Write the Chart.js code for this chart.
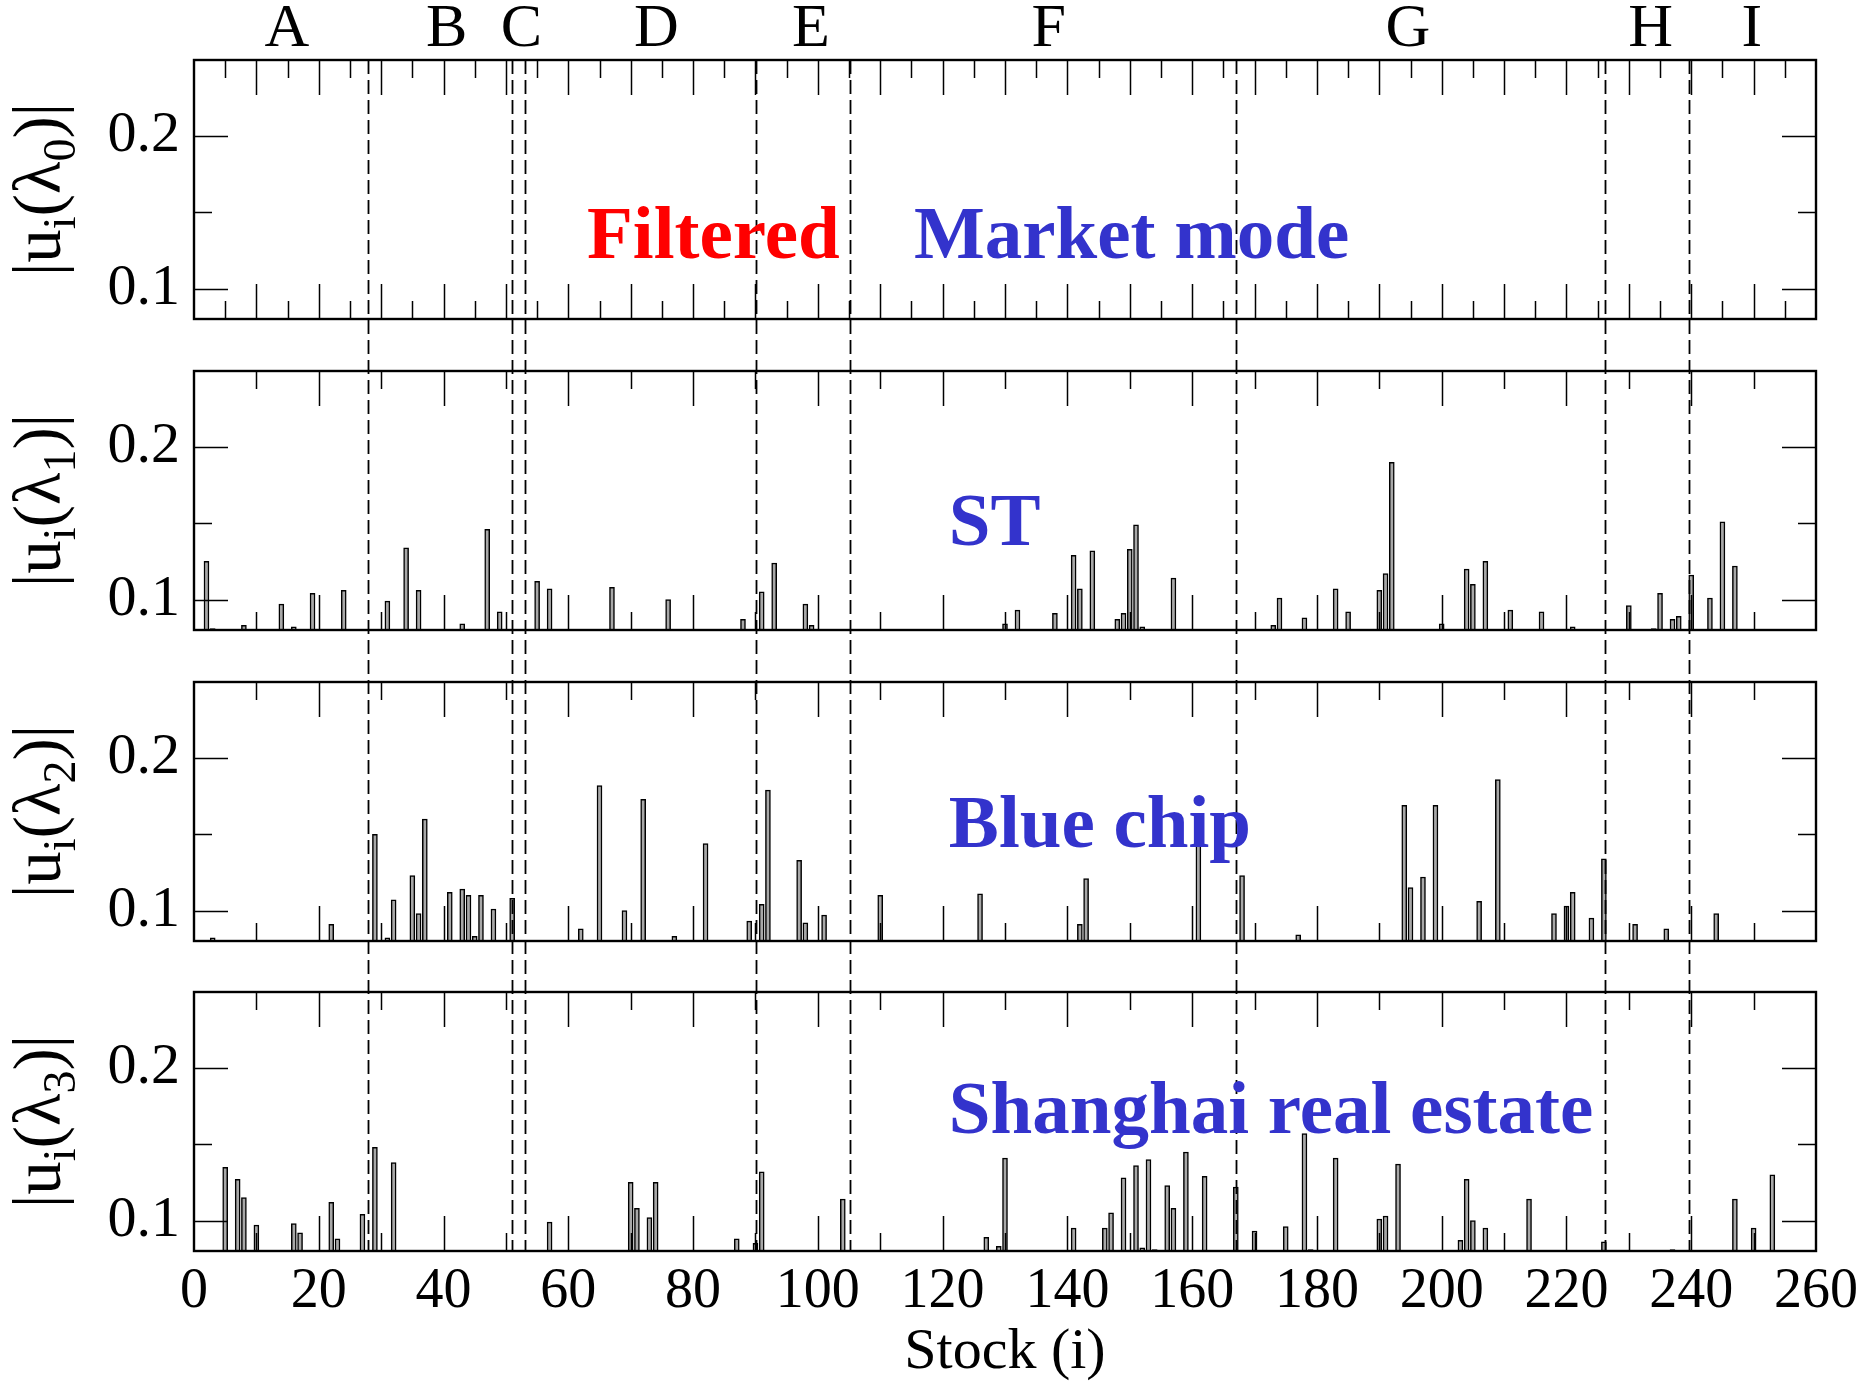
<!DOCTYPE html>
<html>
<head>
<meta charset="utf-8">
<script src="https://cdn.jsdelivr.net/npm/chart.js@4.4.1/dist/chart.umd.min.js"></script>
<style>
  html, body { margin: 0; padding: 0; background: #ffffff; }
  #wrap { position: relative; width: 1866px; height: 1384px; background: #ffffff; overflow: hidden; }
  #wrap canvas { position: absolute; left: 0; top: 0; }
</style>
</head>
<body>
<div id="wrap">
  <canvas id="c0" width="1866" height="1384"></canvas>
  <canvas id="c1" width="1866" height="1384"></canvas>
  <canvas id="c2" width="1866" height="1384"></canvas>
  <canvas id="c3" width="1866" height="1384"></canvas>
</div>
<script>
// ---------------- data ----------------
const sectorNames   = ['A', 'B', 'C', 'D', 'E', 'F', 'G', 'H', 'I'];
const sectorLabelAt = [14.9, 40.5, 52.5, 74.1, 98.9, 137.0, 194.6, 233.5, 249.7];
const sectorBounds  = [27.9, 50.9, 53.1, 90.1, 105.2, 167.1, 226.1, 239.7];

const xTickLabels = [0, 20, 40, 60, 80, 100, 120, 140, 160, 180, 200, 220, 240, 260];
const yTickLabels = [0.1, 0.2];
const xAxisTitle = 'Stock (i)';
const eigenIndex = ['0', '1', '2', '3'];

// panel 0 : market mode (filtered) - no component above the axis minimum
const stocks0 = [];
const values0 = [];

// panel 1 : ST
const stocks1 = [2, 3, 8, 14, 16, 19, 24, 31, 34, 36, 43, 47, 49, 55, 57, 67, 76,
  88, 91, 93, 98, 99, 130, 132, 138, 141, 142, 144, 148, 149, 150, 151, 152, 157,
  173, 174, 178, 183, 185, 190, 191, 192, 200, 204, 205, 207, 211, 216, 221,
  230, 234, 235, 237, 238, 240, 243, 245, 247];
const values1 = [0.125, 0.081, 0.083, 0.097, 0.082, 0.104, 0.106, 0.099, 0.134, 0.106, 0.084, 0.146, 0.092, 0.112, 0.107, 0.108, 0.100,
  0.087, 0.105, 0.124, 0.097, 0.083, 0.084, 0.093, 0.091, 0.129, 0.107, 0.132, 0.087, 0.091, 0.133, 0.149, 0.082, 0.114,
  0.083, 0.101, 0.088, 0.107, 0.092, 0.106, 0.117, 0.190, 0.084, 0.120, 0.110, 0.125, 0.093, 0.092, 0.082,
  0.096, 0.081, 0.104, 0.087, 0.089, 0.116, 0.101, 0.151, 0.122];

// panel 2 : Blue chip
const stocks2 = [3, 22, 29, 31, 32, 35, 36, 37, 41, 43, 44, 45, 46, 48, 51, 62, 65, 69, 72, 77, 82,
  89, 91, 92, 97, 98, 101, 110, 126, 142, 143, 161, 168, 177, 194, 195, 197, 199, 206, 209,
  218, 220, 221, 224, 226, 231, 236, 244];
const values2 = [0.082, 0.091, 0.150, 0.082, 0.107, 0.123, 0.098, 0.160, 0.112, 0.114, 0.110, 0.083, 0.110, 0.101, 0.108, 0.088, 0.182, 0.100, 0.173, 0.083, 0.144,
  0.093, 0.104, 0.179, 0.133, 0.092, 0.097, 0.110, 0.111, 0.091, 0.121, 0.148, 0.123, 0.084, 0.169, 0.115, 0.122, 0.169, 0.106, 0.186,
  0.098, 0.103, 0.112, 0.095, 0.134, 0.091, 0.088, 0.098];

// panel 3 : Shanghai real estate
const stocks3 = [5, 7, 8, 10, 16, 17, 22, 23, 27, 29, 32, 57, 70, 71, 73, 74, 87, 90, 91, 104,
  127, 129, 130, 141, 146, 147, 149, 151, 152, 153, 154, 156, 157, 159, 162, 167, 170, 175,
  178, 179, 183, 190, 191, 193, 203, 204, 205, 207, 214, 226, 237, 247, 250, 253];
const values3 = [0.135, 0.127, 0.115, 0.097, 0.098, 0.092, 0.112, 0.088, 0.104, 0.148, 0.138, 0.099, 0.125, 0.108, 0.102, 0.125, 0.088, 0.085, 0.132, 0.114,
  0.089, 0.083, 0.141, 0.095, 0.095, 0.105, 0.128, 0.136, 0.082, 0.140, 0.081, 0.123, 0.108, 0.145, 0.129, 0.122, 0.093, 0.096,
  0.157, 0.081, 0.141, 0.101, 0.103, 0.137, 0.087, 0.127, 0.100, 0.095, 0.114, 0.086, 0.081, 0.114, 0.095, 0.130];

const panelStocks = [stocks0, stocks1, stocks2, stocks3];
const panelValues = [values0, values1, values2, values3];

// ---------------- layout / style ----------------
const W = 1866, H = 1384;
const PLOT_LEFT = 194, PLOT_RIGHT = 1816;
const PANEL_TOPS = [60, 371, 682, 992];
const PANEL_H = 259;
const SERIF = '"Liberation Serif", "Times New Roman", serif';
const BLUE = 'rgb(51,51,204)';
const notes = [
  [{ text: 'Filtered', color: '#ff0000', x: 63.0, dy: 198 }, { text: 'Market mode', color: BLUE, x: 115.4, dy: 198 }],
  [{ text: 'ST', color: BLUE, x: 121.0, dy: 174 }],
  [{ text: 'Blue chip', color: BLUE, x: 121.0, dy: 165 }],
  [{ text: 'Shanghai real estate', color: BLUE, x: 121.0, dy: 141 }]
];

function drawYTitle(ctx, cx, cy, sub) {
  const big = '67px ' + SERIF, small = '46px ' + SERIF;
  const parts = [['|u', big, 0], ['i', small, 15], ['(\u03bb', big, 0], [sub, small, 15], [')|', big, 0]];
  let total = 0;
  parts.forEach(pt => { ctx.font = pt[1]; pt.push(ctx.measureText(pt[0]).width); total += pt[3]; });
  ctx.save();
  ctx.translate(cx, cy);
  ctx.rotate(-Math.PI / 2);
  ctx.fillStyle = '#000';
  ctx.textBaseline = 'alphabetic';
  ctx.textAlign = 'left';
  let x = -total / 2;
  parts.forEach(pt => { ctx.font = pt[1]; ctx.fillText(pt[0], x, pt[2]); x += pt[3]; });
  ctx.restore();
}

const framePlugin = {
  id: 'frame',
  afterDatasetsDraw(chart, args, opts) {
    const p = opts.panel;
    const { ctx, chartArea: a } = chart;
    const xs = chart.scales.x, ys = chart.scales.y;
    ctx.save();
    // tick marks, inward on all four sides
    ctx.strokeStyle = '#000';
    ctx.lineWidth = 1.5;
    const step = p === 0 ? 5 : 10, majorStep = p === 0 ? 10 : 20;
    ctx.beginPath();
    for (let v = step; v < 260; v += step) {
      const px = Math.round(xs.getPixelForValue(v)) + 0.5;
      const len = (v % majorStep === 0) ? 35 : 18;
      ctx.moveTo(px, a.bottom); ctx.lineTo(px, a.bottom - len);
      ctx.moveTo(px, a.top); ctx.lineTo(px, a.top + len);
    }
    [0.1, 0.15, 0.2].forEach(v => {
      const py = Math.round(ys.getPixelForValue(v)) + 0.5;
      const len = (Math.abs(v - 0.15) < 1e-9) ? 18 : 34;
      ctx.moveTo(a.left, py); ctx.lineTo(a.left + len, py);
      ctx.moveTo(a.right, py); ctx.lineTo(a.right - len, py);
    });
    ctx.stroke();
    // frame
    ctx.lineWidth = 2.4;
    ctx.strokeRect(a.left, a.top, a.right - a.left, a.bottom - a.top);
    // sector boundaries (dashed), continuous through the gaps between panels
    const y0 = p === 0 ? a.top : PANEL_TOPS[p - 1] + PANEL_H;
    ctx.lineWidth = 1.8;
    ctx.setLineDash([14, 6]);
    ctx.lineDashOffset = (y0 - PANEL_TOPS[0]) % 20;
    ctx.beginPath();
    sectorBounds.forEach(b => {
      const px = Math.round(xs.getPixelForValue(b)) + 0.5;
      ctx.moveTo(px, y0); ctx.lineTo(px, a.bottom);
    });
    ctx.stroke();
    ctx.setLineDash([]);
    // panel annotations
    ctx.font = 'bold 75px ' + SERIF;
    ctx.textAlign = 'left';
    ctx.textBaseline = 'alphabetic';
    notes[p].forEach(n => {
      ctx.fillStyle = n.color;
      ctx.fillText(n.text, xs.getPixelForValue(n.x), a.top + n.dy);
    });
    // sector letters above top panel
    if (p === 0) {
      ctx.fillStyle = '#000';
      ctx.font = '62px ' + SERIF;
      ctx.textAlign = 'center';
      sectorNames.forEach((s, k) => ctx.fillText(s, xs.getPixelForValue(sectorLabelAt[k]), 46));
    }
    // x axis title
    if (p === 3) {
      ctx.fillStyle = '#000';
      ctx.font = '58px ' + SERIF;
      ctx.textAlign = 'center';
      ctx.fillText(xAxisTitle, (a.left + a.right) / 2, 1368);
    }
    ctx.restore();
    // y axis title
    drawYTitle(ctx, 60, (a.top + a.bottom) / 2, eigenIndex[p]);
  }
};

function makeChart(p) {
  const top = PANEL_TOPS[p], bottom = top + PANEL_H;
  const last = p === 3;
  return new Chart(document.getElementById('c' + p), {
    type: 'bar',
    data: {
      datasets: [{
        data: panelStocks[p].map((s, k) => ({ x: s, y: panelValues[p][k] })),
        backgroundColor: '#a8a8a8',
        borderColor: '#000000',
        borderWidth: 1.5,
        borderSkipped: 'start',
        barThickness: 5,
        clip: 0
      }]
    },
    options: {
      responsive: false,
      animation: false,
      devicePixelRatio: 1,
      layout: { padding: { left: 0, right: W - PLOT_RIGHT, top: top, bottom: last ? 0 : H - bottom } },
      plugins: { legend: { display: false }, tooltip: { enabled: false }, frame: { panel: p } },
      scales: {
        x: {
          type: 'linear', min: 0, max: 260, display: last, offset: false,
          grid: { display: false, drawTicks: false, offset: false }, border: { display: false },
          afterBuildTicks: s => { s.ticks = xTickLabels.map(v => ({ value: v })); },
          afterFit: s => { if (last) s.height = H - bottom; },
          ticks: { font: { family: SERIF, size: 56 }, color: '#000', padding: 8, maxRotation: 0, autoSkip: false,
                   callback: v => String(v) }
        },
        y: {
          type: 'linear', min: 0.08, max: 0.25,
          grid: { display: false, drawTicks: false }, border: { display: false },
          afterBuildTicks: s => { s.ticks = yTickLabels.map(v => ({ value: v })); },
          afterFit: s => { s.width = PLOT_LEFT; },
          ticks: { font: { family: SERIF, size: 58 }, color: '#000', padding: 14, callback: v => Number(v).toFixed(1) }
        }
      }
    },
    plugins: [framePlugin]
  });
}

[0, 1, 2, 3].forEach(makeChart);
</script>
</body>
</html>
